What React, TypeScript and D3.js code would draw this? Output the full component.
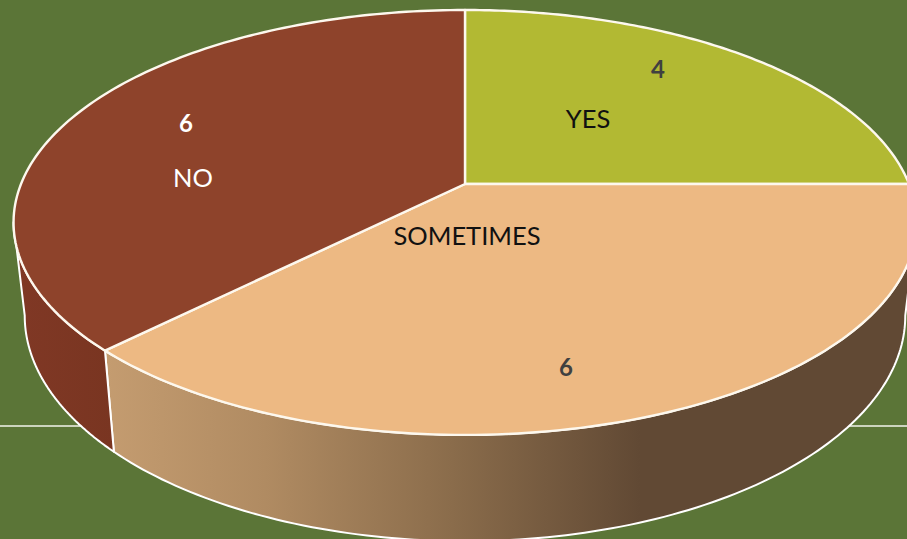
import React from "react";
import * as d3 from "d3";

const categories = ["YES", "SOMETIMES", "NO"];
const values = [4, 6, 6];
const faceColors = ["#b2b933", "#edb983", "#8e432b"];
const labelColors = ["#111111", "#111111", "#ffffff"];
const valueColors = ["#404040", "#404040", "#ffffff"];

const W = 907;
const H = 539;
const FONT = "Lato, 'Open Sans', sans-serif";

// Perspective projection of a unit circle on to the screen
const K = -0.181;
const project = (cy: number, a: number, b: number) => (theta: number): [number, number] => {
  const u = Math.sin(theta);
  const v = -Math.cos(theta);
  const d = 1 + K * v;
  return [465 + (a * u) / d, cy + (b * v) / d];
};
const topRim = project(184, 444, 205.5);
const bottomRim = project(275, 433, 218);

const sample = (f: (t: number) => [number, number], a0: number, a1: number) =>
  d3.range(0, 121).map((i) => f(a0 + ((a1 - a0) * i) / 120));

const line = d3.line();
const rad = (d: number) => (d * Math.PI) / 180;
const TAN_R = rad(100.4);
const TAN_L = rad(259.6);

const labelPos: [number, number][] = [[588, 118], [467, 235], [193, 176.5]];
const valuePos: [number, number][] = [[658, 68], [566, 366], [186, 122]];

export default function App() {
  const arcs = d3.pie<number>().sort(null).startAngle(0).endAngle(2 * Math.PI)(values);
  const boundary = arcs[1].endAngle;

  const sidePath = (a0: number, a1: number) =>
    line([...sample(topRim, a0, a1), ...sample(bottomRim, a0, a1).reverse()]) + "Z";

  const facePath = (a0: number, a1: number) =>
    line([[465, 184], ...sample(topRim, a0, a1)]) + "Z";

  return (
    <svg
      width={W}
      height={H}
      viewBox={`0 0 ${W} ${H}`}
      style={{ position: "fixed", left: 0, top: 0, display: "block" }}
    >
      <defs>
        <linearGradient id="sideLight" gradientUnits="userSpaceOnUse" x1={105} x2={640} y1={0} y2={0}>
          <stop offset="0" stopColor="#c49c70" />
          <stop offset="0.3" stopColor="#b08b62" />
          <stop offset="0.65" stopColor="#8a6c4b" />
          <stop offset="1" stopColor="#614934" />
        </linearGradient>
        <linearGradient id="sideDark" gradientUnits="userSpaceOnUse" x1={15} x2={115} y1={0} y2={0}>
          <stop offset="0" stopColor="#803825" />
          <stop offset="1" stopColor="#793521" />
        </linearGradient>
      </defs>
      <rect width={W} height={H} fill="#5b7537" />
      <line x1={0} x2={W} y1={426} y2={426} stroke="#f2f4ec" strokeWidth={1.3} />
      <path d={sidePath(TAN_R, boundary)} fill="url(#sideLight)" stroke="#ffffff" strokeWidth={2} strokeLinejoin="round" />
      <path d={sidePath(boundary, TAN_L)} fill="url(#sideDark)" stroke="#ffffff" strokeWidth={2} strokeLinejoin="round" />
      {arcs.map((d, i) => (
        <path
          key={categories[i]}
          d={facePath(d.startAngle, d.endAngle)}
          fill={faceColors[i]}
          stroke="#fdf8ee"
          strokeWidth={2.4}
          strokeLinejoin="round"
        />
      ))}
      {categories.map((c, i) => (
        <text
          key={c}
          x={labelPos[i][0]}
          y={labelPos[i][1]}
          fill={labelColors[i]}
          fontFamily={FONT}
          fontSize={25.5}
          textAnchor="middle"
          dominantBaseline="central"
        >
          {c}
        </text>
      ))}
      {values.map((v, i) => (
        <text
          key={categories[i]}
          x={valuePos[i][0]}
          y={valuePos[i][1]}
          fill={valueColors[i]}
          fontFamily={FONT}
          fontWeight={700}
          fontSize={24}
          textAnchor="middle"
          dominantBaseline="central"
        >
          {v}
        </text>
      ))}
    </svg>
  );
}
